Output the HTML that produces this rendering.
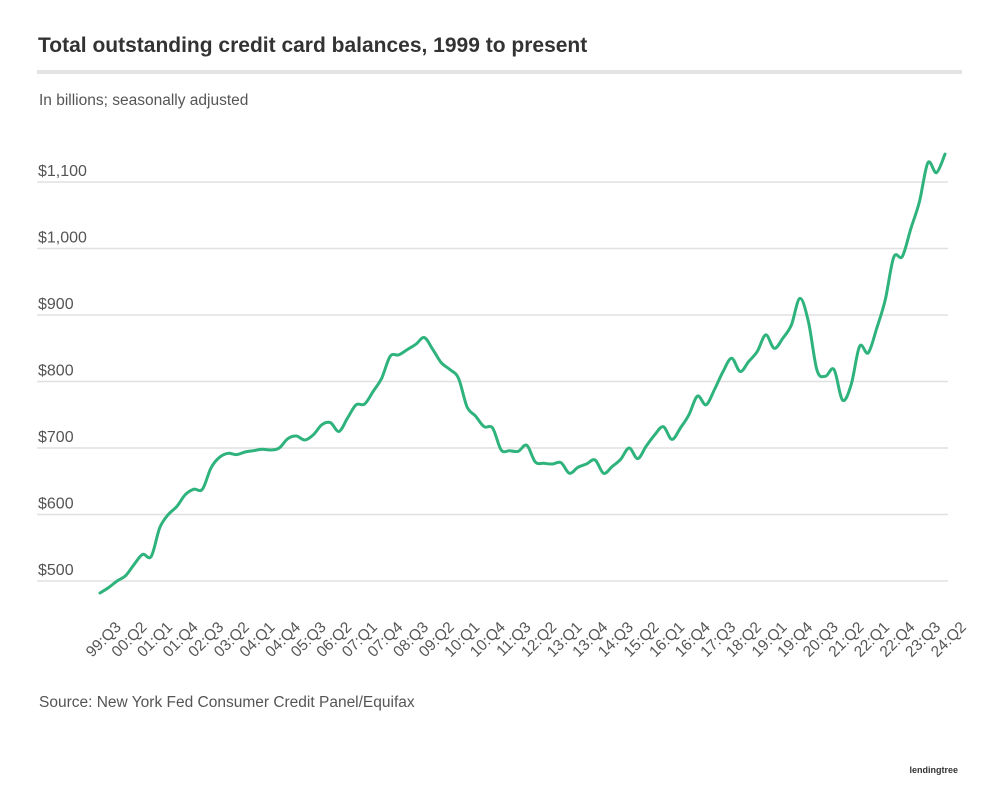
<!DOCTYPE html>
<html><head><meta charset="utf-8"><style>
body{margin:0;background:#fff;width:1000px;height:788px;overflow:hidden}
svg{display:block}
</style></head><body>
<svg id="chart" width="1000" height="788" xmlns="http://www.w3.org/2000/svg">
<text x="38" y="52" font-family="Liberation Sans, sans-serif" font-weight="bold" font-size="21" fill="#333">Total outstanding credit card balances, 1999 to present</text>
<rect x="37" y="70" width="925" height="4" fill="#e3e3e3"/>
<text x="39" y="105" font-family="Liberation Sans, sans-serif" font-size="15.5" fill="#555">In billions; seasonally adjusted</text>
<g id="grid"></g>
<g id="xlabels"></g>
<path id="line" fill="none" stroke="#2fb37c" stroke-width="3" stroke-linejoin="round" stroke-linecap="round"/>
<text x="39" y="707" font-family="Liberation Sans, sans-serif" font-size="15.5" fill="#555">Source: New York Fed Consumer Credit Panel/Equifax</text>
<text x="958" y="773" text-anchor="end" font-family="Liberation Sans, sans-serif" font-weight="bold" font-size="9" fill="#333">lendingtree</text>
</svg>
<script>
const yTicks=[500,600,700,800,900,1000,1100];
const yTickLabels=["$500","$600","$700","$800","$900","$1,000","$1,100"];
const values=[482,490,500,508,525,540,537,580,600,612,630,638,638,670,686,692,690,694,696,698,697,700,714,718,712,720,735,738,725,745,765,766,785,805,838,840,848,856,866,848,828,818,805,762,748,732,730,697,696,695,704,679,677,676,678,662,671,676,682,662,672,683,700,684,703,720,732,713,730,750,778,765,788,815,835,815,830,845,870,850,865,885,925,890,817,808,818,772,795,853,843,880,923,987,988,1030,1070,1129,1114,1142];
const startYear=1999, startQ=3;
const NS="http://www.w3.org/2000/svg";
const x0=100,x1=945,gx0=37,gx1=948;
function xs(i){return x0+(x1-x0)*i/(values.length-1);}
function ys(v){return 581-(v-500)*0.665;}
const grid=document.getElementById('grid');
yTicks.forEach((t,k)=>{
  const l=document.createElementNS(NS,'line');
  l.setAttribute('x1',gx0);l.setAttribute('x2',gx1);l.setAttribute('y1',ys(t));l.setAttribute('y2',ys(t));
  l.setAttribute('stroke','#e0e0e0');l.setAttribute('stroke-width','1.5');
  
  
  grid.appendChild(l);
  const tx=document.createElementNS(NS,'text');
  tx.setAttribute('x',38);tx.setAttribute('y',ys(t)-6);
  tx.setAttribute('font-family','Liberation Sans, sans-serif');tx.setAttribute('font-size','16');tx.setAttribute('fill','#555');
  tx.textContent=yTickLabels[k];
  
  
  grid.appendChild(tx);
});
const xl=document.getElementById('xlabels');
for(let i=0;i<values.length;i+=3){
  const q=startQ-1+i, yr=(startYear+Math.floor(q/4))%100, qq=q%4+1;
  const lab=String(yr).padStart(2,'0')+':Q'+qq;
  const t=document.createElementNS(NS,'text');
  const x=xs(i)+22,y=628;
  t.setAttribute('x',x);t.setAttribute('y',y);
  t.setAttribute('text-anchor','end');
  t.setAttribute('transform','rotate(-45 '+x+' '+y+')');
  t.setAttribute('font-family','Liberation Sans, sans-serif');t.setAttribute('font-size','15.5');t.setAttribute('fill','#555');
  t.textContent=lab;
  
  
  xl.appendChild(t);
}
const pts=values.map((v,i)=>[xs(i),ys(v)]);
let d='M'+pts[0][0].toFixed(1)+','+pts[0][1].toFixed(1);
for(let i=0;i<pts.length-1;i++){
  const p0=pts[Math.max(0,i-1)],p1=pts[i],p2=pts[i+1],p3=pts[Math.min(pts.length-1,i+2)];
  const c1=[p1[0]+(p2[0]-p0[0])/6,p1[1]+(p2[1]-p0[1])/6];
  const c2=[p2[0]-(p3[0]-p1[0])/6,p2[1]-(p3[1]-p1[1])/6];
  d+=' C'+c1[0].toFixed(1)+','+c1[1].toFixed(1)+' '+c2[0].toFixed(1)+','+c2[1].toFixed(1)+' '+p2[0].toFixed(1)+','+p2[1].toFixed(1);
}
document.getElementById('line').setAttribute('d',d);
</script>
</body></html>
